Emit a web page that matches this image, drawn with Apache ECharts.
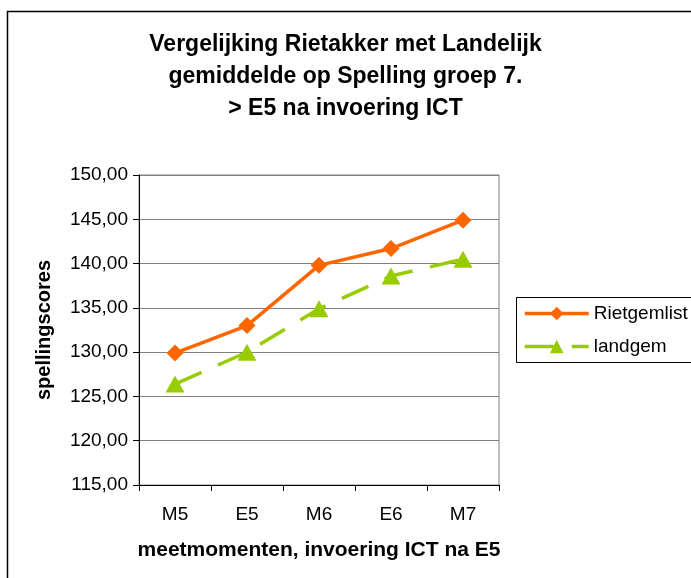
<!DOCTYPE html>
<html>
<head>
<meta charset="utf-8">
<script src="https://cdn.jsdelivr.net/npm/echarts@6/dist/echarts.min.js"></script>
<style>
  html, body { margin: 0; padding: 0; background: #fff; }
  #chart { width: 691px; height: 578px; }
</style>
</head>
<body>
<div id="chart"></div>
<script>
var categories = ['M5', 'E5', 'M6', 'E6', 'M7'];
var rietgemlist = [129.9, 133.0, 139.8, 141.7, 144.9];
var landgem = [126.4, 130.0, 134.9, 138.6, 140.5];
var seriesNames = ['Rietgemlist', 'landgem'];
var titleText = 'Vergelijking Rietakker met Landelijk\ngemiddelde op Spelling groep 7.\n> E5 na invoering ICT';
var xAxisTitle = 'meetmomenten, invoering ICT na E5';
var yAxisTitle = 'spellingscores';

var FONT = '"Liberation Sans", Arial, sans-serif';
var chart = echarts.init(document.getElementById('chart'), null, { renderer: 'canvas' });
chart.setOption({
  backgroundColor: '#ffffff',
  animation: false,
  textStyle: { fontFamily: FONT },
  graphic: [{
    type: 'polyline',
    shape: { points: [[7.5, 600], [7.5, 11.5], [700, 11.5]] },
    style: { stroke: '#000', lineWidth: 1.5, fill: null },
    silent: true, z: -1
  }, {
    type: 'rect',
    shape: { x: 516.5, y: 297.5, width: 220, height: 65 },
    style: { stroke: '#000', lineWidth: 1, fill: null },
    silent: true, z: -1
  }],
  title: {
    text: titleText,
    left: 'center',
    top: 24,
    textStyle: { fontFamily: FONT, fontSize: 23, fontWeight: 'bold', color: '#000', lineHeight: 32 }
  },
  legend: {
    orient: 'vertical',
    left: 516,
    top: 297,
    padding: [7, 7, 6, 7],
    itemWidth: 64,
    itemHeight: 17,
    itemGap: 14,
    data: [
      { name: seriesNames[0], lineStyle: { width: 3.5 } },
      { name: seriesNames[1], lineStyle: { width: 3.5 } }
    ],
    textStyle: { fontFamily: FONT, fontSize: 19, color: '#000' }
  },
  grid: {
    left: 139, right: 192, top: 175, bottom: 93,
    show: true, borderColor: '#808080', borderWidth: 1
  },
  xAxis: {
    type: 'category',
    data: categories,
    boundaryGap: true,
    name: xAxisTitle,
    nameLocation: 'middle',
    nameGap: 55,
    nameTextStyle: { fontFamily: FONT, fontSize: 21, fontWeight: 'bold', color: '#000' },
    axisLine: { lineStyle: { color: '#000', width: 1 } },
    axisTick: { show: true, interval: 0, length: 6, lineStyle: { color: '#000' } },
    axisLabel: { fontFamily: FONT, fontSize: 19, color: '#000', margin: 20 },
    splitLine: { show: false }
  },
  yAxis: {
    type: 'value',
    min: 115,
    max: 150,
    interval: 5,
    name: yAxisTitle,
    nameLocation: 'middle',
    nameGap: 85,
    nameTextStyle: { fontFamily: FONT, fontSize: 20, fontWeight: 'bold', color: '#000' },
    axisLine: { show: true, lineStyle: { color: '#000', width: 1 } },
    axisTick: { show: true, length: 6, lineStyle: { color: '#000' } },
    axisLabel: {
      fontFamily: FONT, fontSize: 19, color: '#000', margin: 11,
      formatter: function (v) { return v.toFixed(2).replace('.', ','); }
    },
    splitLine: { show: true, lineStyle: { color: '#808080', width: 1 } }
  },
  series: [{
    name: seriesNames[0],
    type: 'line',
    data: rietgemlist,
    symbol: 'diamond',
    symbolSize: 17,
    color: '#FF6600',
    lineStyle: { color: '#FF6600', width: 3.5 },
    itemStyle: { color: '#FF6600' },
    z: 3
  }, {
    name: seriesNames[1],
    type: 'line',
    data: landgem,
    symbol: 'triangle',
    symbolSize: [19, 17],
    color: '#99CC00',
    lineStyle: { color: '#99CC00', width: 3.5, type: [29, 18] },
    itemStyle: { color: '#99CC00' },
    z: 2
  }]
});
</script>
</body>
</html>
